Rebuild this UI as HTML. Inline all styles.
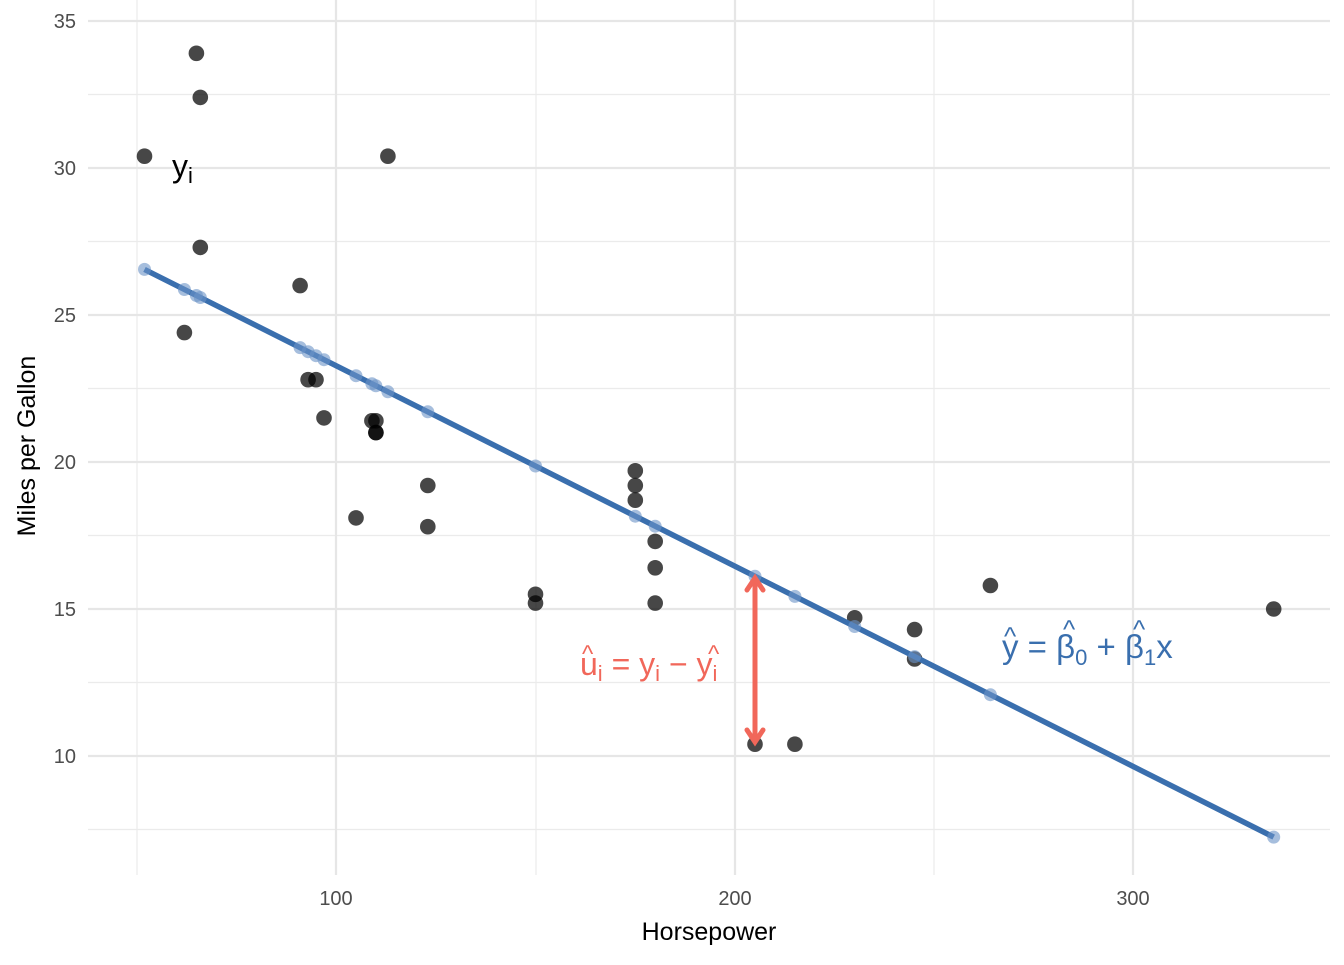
<!DOCTYPE html>
<html><head><meta charset="utf-8"><style>html,body{margin:0;padding:0;background:#fff}</style></head>
<body>
<svg width="1344" height="960" xmlns="http://www.w3.org/2000/svg" font-family="Liberation Sans, Arial, sans-serif">
<rect width="1344" height="960" fill="#fff"/>
<g stroke="#ebebeb" stroke-width="1.2">
<line x1="88" x2="1330" y1="829.5" y2="829.5"/><line x1="88" x2="1330" y1="682.5" y2="682.5"/>
<line x1="88" x2="1330" y1="535.5" y2="535.5"/><line x1="88" x2="1330" y1="388.5" y2="388.5"/>
<line x1="88" x2="1330" y1="241.5" y2="241.5"/><line x1="88" x2="1330" y1="94.5" y2="94.5"/>
<line x1="137" x2="137" y1="0" y2="875"/><line x1="536" x2="536" y1="0" y2="875"/><line x1="934" x2="934" y1="0" y2="875"/>
</g>
<g stroke="#e6e6e6" stroke-width="2.2">
<line x1="88" x2="1330" y1="756" y2="756"/><line x1="88" x2="1330" y1="609" y2="609"/>
<line x1="88" x2="1330" y1="462" y2="462"/><line x1="88" x2="1330" y1="315" y2="315"/>
<line x1="88" x2="1330" y1="168" y2="168"/><line x1="88" x2="1330" y1="21" y2="21"/>
<line x1="336" x2="336" y1="0" y2="875"/><line x1="735" x2="735" y1="0" y2="875"/><line x1="1133" x2="1133" y1="0" y2="875"/>
</g>
<g font-size="20" fill="#4d4d4d" text-anchor="end">
<text x="76" y="763">10</text><text x="76" y="616">15</text><text x="76" y="469">20</text>
<text x="76" y="322">25</text><text x="76" y="175">30</text><text x="76" y="28">35</text>
</g>
<g font-size="20" fill="#4d4d4d" text-anchor="middle">
<text x="336" y="905">100</text><text x="735" y="905">200</text><text x="1133" y="905">300</text>
</g>
<text x="709" y="940" font-size="25" text-anchor="middle" fill="#000">Horsepower</text>
<text transform="translate(35,446) rotate(-90)" font-size="25" text-anchor="middle" fill="#000">Miles per Gallon</text>
<g fill="#000" fill-opacity="0.72">
<circle cx="375.9" cy="432.6" r="7.8"/><circle cx="375.9" cy="432.6" r="7.8"/>
<circle cx="308.1" cy="379.7" r="7.8"/><circle cx="375.9" cy="420.8" r="7.8"/>
<circle cx="635.3" cy="500.2" r="7.8"/><circle cx="356.0" cy="517.9" r="7.8"/>
<circle cx="914.6" cy="629.6" r="7.8"/><circle cx="184.4" cy="332.6" r="7.8"/>
<circle cx="316.0" cy="379.7" r="7.8"/><circle cx="427.8" cy="485.5" r="7.8"/>
<circle cx="427.8" cy="526.7" r="7.8"/><circle cx="655.2" cy="567.8" r="7.8"/>
<circle cx="655.2" cy="541.4" r="7.8"/><circle cx="655.2" cy="603.1" r="7.8"/>
<circle cx="755.0" cy="744.2" r="7.8"/><circle cx="794.9" cy="744.2" r="7.8"/>
<circle cx="854.7" cy="617.8" r="7.8"/><circle cx="200.3" cy="97.4" r="7.8"/>
<circle cx="144.5" cy="156.2" r="7.8"/><circle cx="196.4" cy="53.3" r="7.8"/>
<circle cx="324.0" cy="417.9" r="7.8"/><circle cx="535.5" cy="594.3" r="7.8"/>
<circle cx="535.5" cy="603.1" r="7.8"/><circle cx="914.6" cy="659.0" r="7.8"/>
<circle cx="635.3" cy="485.5" r="7.8"/><circle cx="200.3" cy="247.4" r="7.8"/>
<circle cx="300.1" cy="285.6" r="7.8"/><circle cx="387.9" cy="156.2" r="7.8"/>
<circle cx="990.4" cy="585.5" r="7.8"/><circle cx="635.3" cy="470.8" r="7.8"/>
<circle cx="1273.7" cy="609" r="7.8"/><circle cx="371.9" cy="420.8" r="7.8"/>
</g>
<line x1="144.5" y1="269.4" x2="1273.7" y2="837.1" stroke="#3a6fae" stroke-width="5.5"/>
<g fill="#6b93c7" fill-opacity="0.6">
<circle cx="144.5" cy="269.4" r="6.5"/><circle cx="184.4" cy="289.5" r="6.5"/><circle cx="196.4" cy="295.5" r="6.5"/>
<circle cx="200.3" cy="297.5" r="6.5"/><circle cx="300.1" cy="347.6" r="6.5"/><circle cx="308.1" cy="351.7" r="6.5"/>
<circle cx="316.0" cy="355.7" r="6.5"/><circle cx="324.0" cy="359.7" r="6.5"/><circle cx="356.0" cy="375.7" r="6.5"/>
<circle cx="371.9" cy="383.8" r="6.5"/><circle cx="375.9" cy="385.8" r="6.5"/><circle cx="387.9" cy="391.8" r="6.5"/>
<circle cx="427.8" cy="411.8" r="6.5"/><circle cx="535.5" cy="466.0" r="6.5"/><circle cx="635.3" cy="516.2" r="6.5"/>
<circle cx="655.2" cy="526.2" r="6.5"/><circle cx="755.0" cy="576.3" r="6.5"/><circle cx="794.9" cy="596.4" r="6.5"/>
<circle cx="854.7" cy="626.5" r="6.5"/><circle cx="914.6" cy="656.6" r="6.5"/><circle cx="990.4" cy="694.7" r="6.5"/>
<circle cx="1273.7" cy="837.1" r="6.5"/>
</g>
<g stroke="#f1675a" stroke-width="5" fill="none" stroke-linecap="round">
<line x1="755" y1="582" x2="755" y2="738"/>
<polyline points="747,590 755,578 763,590"/>
<polyline points="747,730 755,742 763,730"/>
</g>
<text x="172" y="177" font-size="32" fill="#000">y<tspan font-size="22" dy="6">i</tspan></text>
<g font-size="32" fill="#f1675a">
<text x="580" y="675">u<tspan font-size="22" dy="6">i</tspan><tspan dy="-6"> = y</tspan><tspan font-size="22" dy="6">i</tspan><tspan dy="-6"> − y</tspan><tspan font-size="22" dy="6">i</tspan></text>
<text x="582" y="662" font-size="24">^</text><text x="708" y="662" font-size="24">^</text>
</g>
<g font-size="33" fill="#3a6fae">
<text x="1002" y="658">y = β<tspan font-size="22" dy="7">0</tspan><tspan dy="-7"> + β</tspan><tspan font-size="22" dy="7">1</tspan><tspan dy="-7">x</tspan></text>
<text x="1004" y="645" font-size="26">^</text><text x="1063" y="638" font-size="26">^</text><text x="1133" y="638" font-size="26">^</text>
</g>
</svg>
</body></html>
